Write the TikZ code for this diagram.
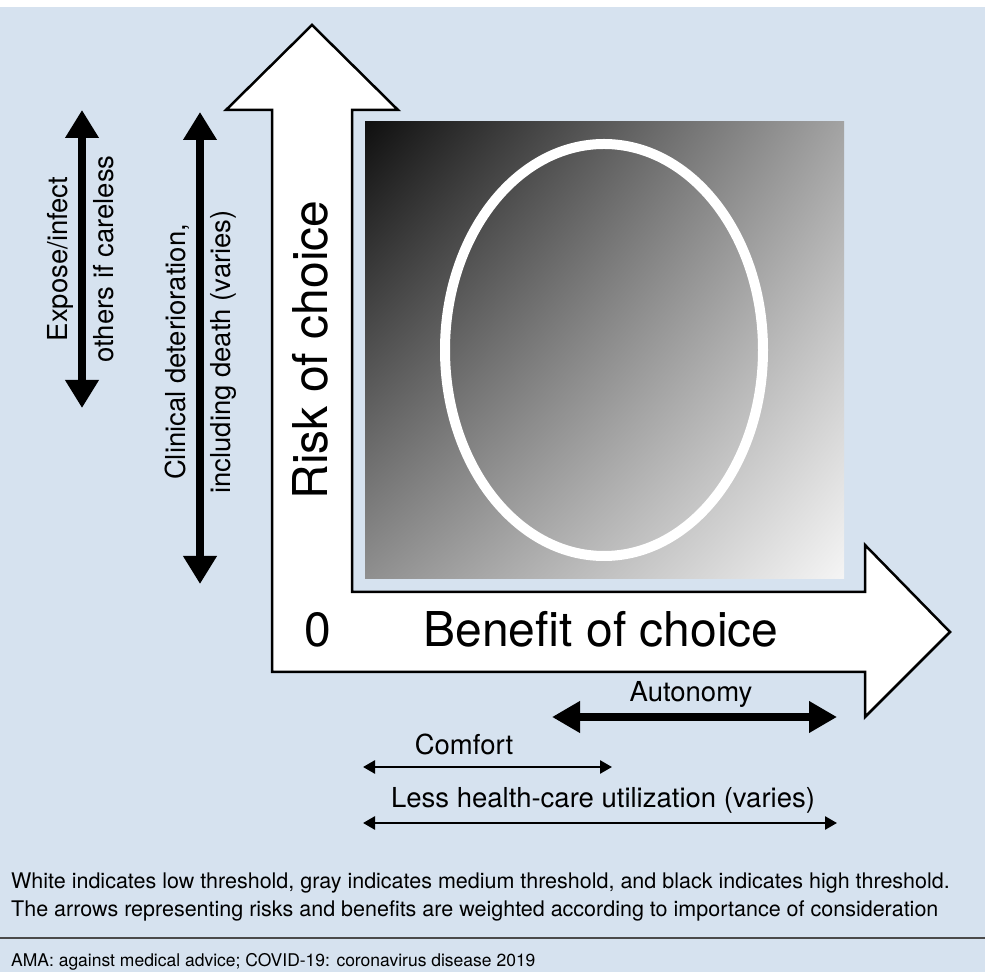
\documentclass[tikz,border=0pt]{standalone}
\usepackage{fontspec}
\setmainfont{TeX Gyre Heros}
\usetikzlibrary{arrows.meta,shadings}
\definecolor{panel}{HTML}{D6E2EF}
\definecolor{rulegray}{HTML}{4A4A4A}
\begin{document}
\begin{tikzpicture}[x=1pt,y=1pt,
  axistext/.style={font=\fontsize{48}{50}\selectfont,inner sep=0pt,anchor=base},
  sidetext/.style={font=\fontsize{27.5}{30}\selectfont,inner sep=0pt,anchor=base},
  note/.style={font=\fontsize{21.5}{24}\selectfont,inner sep=0pt,anchor=base west},
  heavy/.style={line width=8.5pt,{Triangle[length=28pt,width=32pt]}-{Triangle[length=28pt,width=32pt]}},
  light/.style={line width=2.6pt,{Triangle[length=12pt,width=13pt]}-{Triangle[length=12pt,width=13pt]}}
]
\fill[white] (0,0) rectangle (985,972);
\fill[panel] (0,0) rectangle (985,965);
\useasboundingbox (0,0) rectangle (985,972);

\draw[line width=2.5pt,fill=white,line join=miter]
  (272,300) -- (272,862) -- (226,862) -- (312,947) -- (398,862) -- (352,862)
  -- (352,380) -- (865,380) -- (865,427) -- (950,340) -- (865,255) -- (865,300) -- cycle;
\shade[upper left=black!94,upper right=black!36,lower left=black!44,lower right=black!4]
  (365,393) rectangle (844,850);
\draw[white,line width=10pt] (604,622) ellipse [x radius=159,y radius=206];

\node[axistext,rotate=90] (risk) at (327,622) {Risk of choice};
\node[axistext] (zero) at (318,325) {0};
\node[axistext] (benefit) at (601,325) {Benefit of choice};

\coordinate (expose-a) at (82,862);
\coordinate (expose-b) at (82,564);
\coordinate (clin-a) at (200,860);
\coordinate (clin-b) at (200,388);
\draw[heavy] (expose-a) -- (expose-b);
\draw[heavy] (clin-a) -- (clin-b);
\node[sidetext,rotate=90] (expose1) at (67,713) {Expose/infect};
\node[sidetext,rotate=90] (expose2) at (113,713) {others if careless};
\node[sidetext,rotate=90] (clin1) at (185,620) {Clinical deterioration,};
\node[sidetext,rotate=90] (clin2) at (230,620) {including death (varies)};

\coordinate (auto-a) at (552,255);
\coordinate (auto-b) at (837,255);
\coordinate (comf-a) at (363,205);
\coordinate (comf-b) at (612,205);
\coordinate (less-a) at (363,149);
\coordinate (less-b) at (837,149);
\draw[heavy,line width=8pt,{Triangle[length=28pt,width=30pt]}-{Triangle[length=28pt,width=30pt]}] (auto-a) -- (auto-b);
\draw[light] (comf-a) -- (comf-b);
\draw[light] (less-a) -- (less-b);
\node[sidetext] (autonomy) at (691,270) {Autonomy};
\node[sidetext] (comfort) at (464,217) {Comfort};
\node[sidetext] (less) at (603,164) {Less health-care utilization (varies)};

\node[note] (key1) at (11,84) {White indicates low threshold, gray indicates medium threshold, and black indicates high threshold.};
\node[note] (key2) at (11,56) {The arrows representing risks and benefits are weighted according to importance of consideration};
\draw[rulegray,line width=1.3pt] (0,34) -- (985,34);
\node[note,font=\fontsize{17.5}{20}\selectfont] (abbr) at (11,6) {AMA: against medical advice; COVID-19: coronavirus disease 2019};
\end{tikzpicture}
\end{document}
